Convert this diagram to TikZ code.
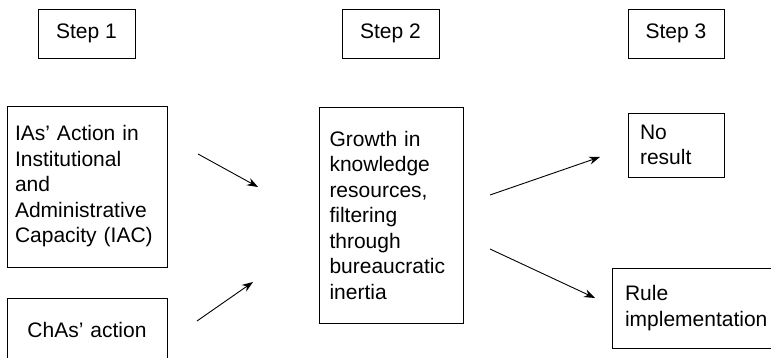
\documentclass[tikz,border=0pt]{standalone}
\usepackage{fontspec}
\setmainfont{Liberation Sans}
\usetikzlibrary{arrows.meta}
\begin{document}
\begin{tikzpicture}[x=1pt,y=-1pt,
  txt/.style={font=\fontsize{21}{25.5}\selectfont},
  stepbox/.style={txt,draw,line width=0.8pt,inner sep=0pt,minimum height=49pt},
  tbox/.style={txt,draw,line width=0.8pt,align=left,inner ysep=0pt},
  arr/.style={line width=0.9pt,-{Stealth[length=11pt,width=8pt]}}]
\useasboundingbox (0,0) rectangle (771,358);
\clip (0,0) rectangle (771,358);
\fill[white] (0,0) rectangle (771,358);
% step headers
\node[stepbox,minimum width=97pt] (s1) at (86.5,33.5) {Step 1};
\node[stepbox,minimum width=97pt] (s2) at (390.5,33.5) {Step 2};
\node[stepbox,minimum width=96pt] (s3) at (676,33.5) {Step 3};
% boxes
\node[tbox,inner xsep=8pt,text width=144pt,minimum height=161pt] (ias) at (87,186.5)
  {IAs’ Action in\\Institutional\\and\\Administrative\\Capacity (IAC)};
\node[tbox,align=center,inner xsep=0pt,text width=160pt,minimum height=64pt] (chas) at (87,330)
  {ChAs’ action};
\node[tbox,inner xsep=10.5pt,text width=123pt,minimum height=216pt] (grow) at (391,215)
  {Growth in\\knowledge\\resources,\\filtering\\through\\bureaucratic\\inertia};
\node[tbox,inner xsep=12pt,text width=72pt,minimum height=64pt] (nores) at (676,145)
  {No\\result};
\node[tbox,inner xsep=13pt,text width=144pt,minimum height=80pt] (rule) at (697,308)
  {Rule\\implementation};
% arrows
\coordinate (a1s) at (198,154); \coordinate (a1e) at (258,187);
\coordinate (a2s) at (197,321); \coordinate (a2e) at (253,282);
\coordinate (a3s) at (490,195); \coordinate (a3e) at (600,157);
\coordinate (a4s) at (490,249); \coordinate (a4e) at (595,298);
\draw[arr] (a1s) -- (a1e);
\draw[arr] (a2s) -- (a2e);
\draw[arr] (a3s) -- (a3e);
\draw[arr] (a4s) -- (a4e);
\end{tikzpicture}
\end{document}
